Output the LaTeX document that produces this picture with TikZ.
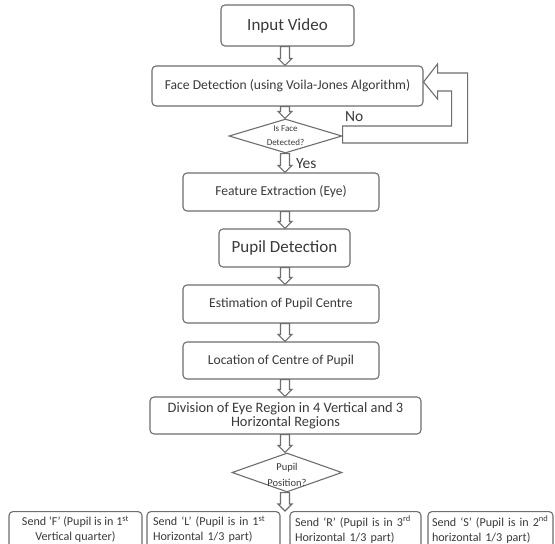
\documentclass[tikz,border=0pt]{standalone}
\usepackage{fontspec}
\setmainfont{Carlito}
\usetikzlibrary{shapes.geometric,calc}
\definecolor{txt}{HTML}{3A3A3A}
\definecolor{ln}{HTML}{6E6E6E}
\newcommand\fsbig{\fontsize{17}{20}\selectfont}
\newcommand\fsmid{\fontsize{13.6}{15}\selectfont}
\newcommand\fsdiv{\fontsize{14.4}{14.5}\selectfont}
\newcommand\fsbot{\fontsize{12.1}{15}\selectfont}
\newcommand\fsyn{\fontsize{15.5}{17}\selectfont}
\begin{document}
\begin{tikzpicture}[x=1pt,y=-1pt,
  every node/.style={text=txt},
  procbox/.style={draw=ln,line width=1.1pt,rounded corners=4pt,inner sep=0pt,align=center},
  decbox/.style={draw=ln,line width=1.1pt,diamond,inner sep=0pt},
  dectext/.style={align=center,inner sep=0pt,text=txt},
  botbox/.style={draw=ln,line width=1.1pt,rounded corners=4pt,inner sep=0pt,anchor=north,minimum height=36pt,font=\fsbot},
  blk/.style={draw=ln,line width=1.1pt,fill=white,line join=miter,
    to path={let \p1=(\tikztostart), \p2=(\tikztotarget) in
      (\x1-4.5pt,\y1) -- (\x1-4.5pt,\y2+7pt) -- (\x1-7pt,\y2+7pt) -- (\x1,\y2)
      -- (\x1+7pt,\y2+7pt) -- (\x1+4.5pt,\y2+7pt) -- (\x1+4.5pt,\y1) -- cycle}},
  fbarrow/.style={draw=ln,line width=1.1pt,line join=miter}
]
\useasboundingbox (0,0) rectangle (555,544);
\clip (0,0) rectangle (555,544);
\fill[white] (0,0) rectangle (555,544);
\coordinate (ax) at (285,0);

\node[procbox,minimum width=133pt,minimum height=41pt,font=\fsbig] (iv) at (287.5,25.5) {Input Video};
\node[procbox,minimum width=271pt,minimum height=40pt,font=\fsmid] (fd) at (287.5,86) {Face Detection (using Voila-Jones Algorithm)};
\node[decbox,minimum width=113pt,minimum height=34pt,
  label={[dectext,font=\fontsize{9}{14}\selectfont]center:Is Face\\Detected?}] (dec1) at (285.5,136) {};
\node[procbox,minimum width=196pt,minimum height=38pt,font=\fsmid] (fe) at (281,192) {Feature Extraction (Eye)};
\node[procbox,minimum width=131pt,minimum height=38pt,font=\fsbig] (pd) at (284.5,248) {Pupil Detection};
\node[procbox,minimum width=196pt,minimum height=38pt,font=\fsmid] (est) at (281,304) {Estimation of Pupil Centre};
\node[procbox,minimum width=196pt,minimum height=37pt,font=\fsmid] (loc) at (281,360.5) {Location of Centre of Pupil};
\node[procbox,minimum width=271pt,minimum height=37pt,font=\fsdiv] (div) at (285.5,415.5) {Division of Eye Region in 4 Vertical and 3\\Horizontal Regions};
\node[decbox,minimum width=110pt,minimum height=39pt,
  label={[dectext,font=\fontsize{10.5}{16}\selectfont,yshift=-2pt]center:Pupil\\Position?}] (dec2) at (287,472.5) {};

\node[botbox,minimum width=133pt,align=center] (bf) at (75.5,511) {\mbox{Send ‘F’ (Pupil is in 1\textsuperscript{st}}\\Vertical quarter)};
\node[botbox,minimum width=133pt,text width=121pt,align=left] (bl) at (213.5,511) {\mbox{Send ‘L’ (Pupil is in 1\textsuperscript{st}}\\\mbox{Horizontal 1/3 part)}};
\node[botbox,minimum width=131pt,text width=121pt,align=left] (br) at (355.5,511) {\mbox{Send ‘R’ (Pupil is in 3\textsuperscript{rd}}\\\mbox{Horizontal 1/3 part)}};
\node[botbox,minimum width=125pt,text width=117pt,align=left] (bs) at (490.5,511) {\mbox{Send ‘S’ (Pupil is in 2\textsuperscript{nd}}\\\mbox{horizontal 1/3 part)}};

\node[font=\fsyn,anchor=west,inner sep=0pt] (no) at (345,117) {No};
\node[font=\fsyn,anchor=west,inner sep=0pt] (yes) at (296,164) {Yes};

\draw[blk] (iv.south -| ax) to (fd.north -| ax);
\draw[blk] (fd.south -| ax) to (dec1.north -| ax);
\draw[blk] (dec1.south -| ax) to (fe.north -| ax);
\draw[blk] (fe.south -| ax) to (pd.north -| ax);
\draw[blk] (pd.south -| ax) to (est.north -| ax);
\draw[blk] (est.south -| ax) to (loc.north -| ax);
\draw[blk] (loc.south -| ax) to (div.north -| ax);
\draw[blk] (div.south -| ax) to (dec2.north -| ax);
\coordinate (bmid) at ($(bl.north east)!0.5!(br.north west)$);
\draw[blk] (dec2.south -| bmid) to (bmid);

\draw[fbarrow] ([yshift=10pt]dec1.east) -- ++(109,0) -- ++(0,-35) -- ++(-14,0) -- ++(0,8)
  -- ++(-14,-17) -- ++(14,-18) -- ++(0,9) -- ++(30,0) -- ++(0,70) -- ++(-125,0) -- cycle;
\end{tikzpicture}
\end{document}
